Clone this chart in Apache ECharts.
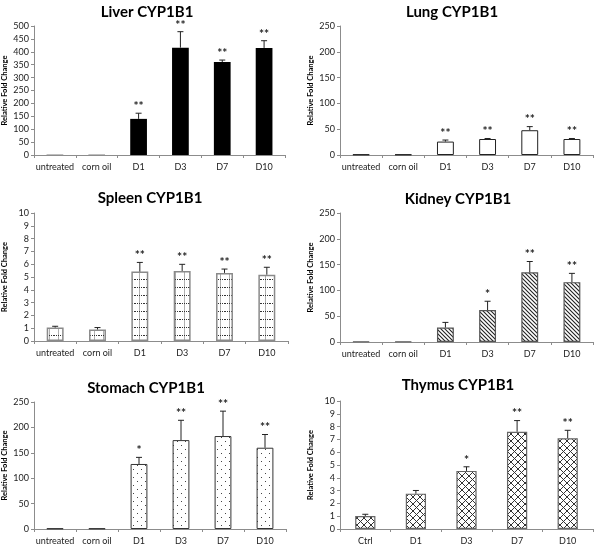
<!DOCTYPE html>
<html><head><meta charset="utf-8">
<script src="https://cdn.jsdelivr.net/npm/echarts@6/dist/echarts.min.js"></script>
<style>html,body{margin:0;padding:0;background:#fff}#c{width:600px;height:546px}</style>
</head><body><div id="c"></div>
<script>
// ---- data ----
const treatCats = ['untreated', 'corn oil', 'D1', 'D3', 'D7', 'D10'];
const thymusCats = ['Ctrl', 'D1', 'D3', 'D7', 'D10'];

const liverVals = [1, 1, 140, 416, 360, 415];
const liverErr = [0, 0, 22, 62, 8, 28];
const liverStars = ['', '', '**', '**', '**', '**'];

const lungVals = [1, 1, 26, 31, 48, 31];
const lungErr = [0, 0, 3, 1, 7, 1];
const lungStars = ['', '', '**', '**', '**', '**'];

const spleenVals = [1.05, 0.9, 5.42, 5.47, 5.32, 5.18];
const spleenErr = [0.1, 0.15, 0.72, 0.52, 0.3, 0.58];
const spleenStars = ['', '', '**', '**', '**', '**'];

const kidneyVals = [1, 1, 28, 62, 135, 116];
const kidneyErr = [0, 0, 10, 17, 21, 17];
const kidneyStars = ['', '', '', '*', '**', '**'];

const stomachVals = [1, 1, 128, 175, 183, 160];
const stomachErr = [0, 0, 13, 39, 49, 26];
const stomachStars = ['', '', '*', '**', '**', '**'];

const thymusVals = [1.02, 2.76, 4.54, 7.6, 7.09];
const thymusErr = [0.13, 0.25, 0.32, 0.87, 0.62];
const thymusStars = ['', '', '*', '**', '**'];

const titles = ['Liver CYP1B1', 'Lung CYP1B1', 'Spleen CYP1B1', 'Kidney CYP1B1', 'Stomach CYP1B1', 'Thymus CYP1B1'];
const yName = 'Relative Fold Change';

// ---- patterns ----
function tile(w, h, draw) {
  const c = document.createElement('canvas');
  c.width = w; c.height = h;
  const g = c.getContext('2d');
  g.fillStyle = '#fff'; g.fillRect(0, 0, w, h);
  draw(g, w, h);
  return { image: c, repeat: 'repeat' };
}
const patGrid = tile(9, 8, (g, w, h) => {
  g.fillStyle = '#b0b0b0'; g.fillRect(4, 0, 1, h);
  g.fillStyle = '#333';
  for (let x = 0; x < w; x += 2) g.fillRect(x, 7, 1, 1);
});
const patDiag = tile(4, 4, (g, w, h) => {
  g.strokeStyle = '#222'; g.lineWidth = 1.1;
  g.beginPath();
  g.moveTo(-1, -1); g.lineTo(w + 1, h + 1);
  g.moveTo(-1, h - 1); g.lineTo(1, h + 1);
  g.moveTo(w - 1, -1); g.lineTo(w + 1, 1);
  g.stroke();
});
const patDots = tile(8, 8, (g) => {
  g.fillStyle = '#444';
  g.fillRect(1, 1, 1, 1);
  g.fillRect(5, 5, 1, 1);
});
const patCross = tile(7, 7, (g, w, h) => {
  g.strokeStyle = '#333'; g.lineWidth = 1;
  g.beginPath();
  g.moveTo(-1, -1); g.lineTo(w + 1, h + 1);
  g.moveTo(w + 1, -1); g.lineTo(-1, h + 1);
  g.stroke();
});

const FONT = 'Lato, "Open Sans", sans-serif';

const panels = [
  { cats: treatCats, vals: liverVals, err: liverErr, stars: liverStars, max: 500, interval: 50,
    grid: { left: 31, top: 26, width: 254, height: 129 }, fill: '#000', border: '#000', bw: 0, tx: 142, ty: 0 },
  { cats: treatCats, vals: lungVals, err: lungErr, stars: lungStars, max: 250, interval: 50,
    grid: { left: 340, top: 26, width: 253, height: 129 }, fill: '#fff', border: '#222', bw: 1, tx: 447, ty: 0 },
  { cats: treatCats, vals: spleenVals, err: spleenErr, stars: spleenStars, max: 10, interval: 1,
    grid: { left: 29, top: 213, width: 259, height: 128 }, fill: patGrid, border: '#8a8a8a', bw: 1.5, tx: 145, ty: 186 },
  { cats: treatCats, vals: kidneyVals, err: kidneyErr, stars: kidneyStars, max: 250, interval: 50,
    grid: { left: 340, top: 213, width: 253, height: 129 }, fill: patDiag, border: '#555', bw: 1.2, tx: 453, ty: 187 },
  { cats: treatCats, vals: stomachVals, err: stomachErr, stars: stomachStars, max: 250, interval: 50,
    grid: { left: 30, top: 402, width: 256, height: 129 }, fill: patDots, border: '#333', bw: 1, tx: 141, ty: 376 },
  { cats: thymusCats, vals: thymusVals, err: thymusErr, stars: thymusStars, max: 10, interval: 1,
    grid: { left: 340, top: 401, width: 253, height: 131 }, fill: patCross, border: '#666', bw: 1.2, tx: 453, ty: 373 }
];

const option = { animation: false, title: [], grid: [], xAxis: [], yAxis: [], series: [] };

panels.forEach((p, i) => {
  option.title.push({
    text: titles[i], left: p.tx, top: p.ty, textAlign: 'center',
    textStyle: { fontFamily: FONT, fontWeight: 'bold', fontSize: 15, color: '#000' }
  });
  option.grid.push(Object.assign({ containLabel: false }, p.grid));
  option.xAxis.push({
    type: 'category', gridIndex: i, data: p.cats,
    axisLine: { lineStyle: { color: '#8c8c8c', width: 1 } },
    axisTick: { show: true, length: 3, lineStyle: { color: '#8c8c8c' } },
    axisLabel: { fontFamily: FONT, fontSize: 9, color: '#222', margin: 8, interval: 0 }
  });
  option.yAxis.push({
    type: 'value', gridIndex: i, min: 0, max: p.max, interval: p.interval,
    name: yName, nameLocation: 'middle', nameGap: 25, nameRotate: 90,
    nameTextStyle: { fontFamily: FONT, fontWeight: 'bold', fontSize: 7.5, color: '#000' },
    axisLine: { show: true, lineStyle: { color: '#8c8c8c', width: 1 } },
    axisTick: { show: true, length: 3, lineStyle: { color: '#8c8c8c' } },
    axisLabel: { fontFamily: FONT, fontSize: 9, color: '#222', margin: 5 },
    splitLine: { show: false }
  });
  option.series.push({
    type: 'bar', xAxisIndex: i, yAxisIndex: i, barWidth: '40%',
    data: p.vals,
    itemStyle: { color: p.fill, borderColor: p.border, borderWidth: p.bw },
    silent: true
  });
  const stars = p.stars;
  option.series.push({
    type: 'custom', xAxisIndex: i, yAxisIndex: i, silent: true, z: 5,
    data: p.vals.map((v, k) => [k, v, p.err[k]]),
    renderItem: function (params, api) {
      const x = api.value(0), v = api.value(1), e = api.value(2);
      const b = api.coord([x, v]);
      const t = api.coord([x, v + e]);
      const ch = [];
      if (e > 0) {
        ch.push({ type: 'line', shape: { x1: b[0], y1: b[1], x2: t[0], y2: t[1] }, style: { stroke: '#222', lineWidth: 1 } });
        ch.push({ type: 'line', shape: { x1: t[0] - 3, y1: t[1], x2: t[0] + 3, y2: t[1] }, style: { stroke: '#222', lineWidth: 1 } });
      }
      const s = stars[params.dataIndex];
      if (s) {
        ch.push({ type: 'text', style: { text: s, x: t[0], y: t[1] - 1, align: 'center', verticalAlign: 'bottom',
          font: 'bold 12px ' + FONT, fill: '#222' } });
      }
      return { type: 'group', children: ch };
    }
  });
});

const chart = echarts.init(document.getElementById('c'), null, { renderer: 'canvas' });
chart.setOption(option);
</script>
</body></html>
